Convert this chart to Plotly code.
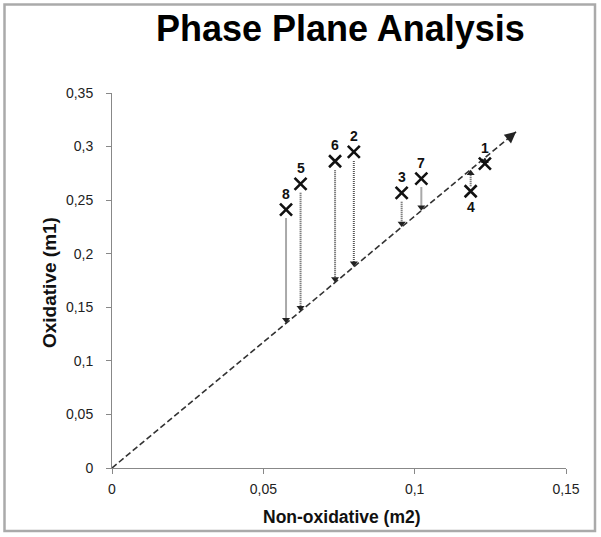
import plotly.graph_objects as go

# ---- data ----
labels = ["1", "2", "3", "4", "5", "6", "7", "8"]
non_oxidative = [0.1232, 0.0799, 0.0957, 0.1185, 0.0623, 0.0737, 0.1022, 0.0575]
oxidative = [0.2841, 0.2950, 0.2568, 0.2583, 0.2652, 0.2863, 0.2701, 0.2412]
label_below = [False, False, False, True, False, False, False, False]

line_slope = 2.35        # oxidative / non-oxidative reference line
line_end_x = 0.1335

x_tickvals = [0, 0.05, 0.1, 0.15]
x_ticktext = ["0", "0,05", "0,1", "0,15"]
y_tickvals = [0, 0.05, 0.1, 0.15, 0.2, 0.25, 0.3, 0.35]
y_ticktext = ["0", "0,05", "0,1", "0,15", "0,2", "0,25", "0,3", "0,35"]

FONT = "Liberation Sans, Arial, Helvetica, sans-serif"

# ---- geometry of plot area (pixels) ----
W, H = 601, 537
L, R, T, B = 112, 35, 93, 69
PW, PH = W - L - R, H - T - B
XR = [0, 0.15]
YR = [0, 0.35]
px_per_y = PH / (YR[1] - YR[0])


def ypix(d):
    return d / px_per_y


fig = go.Figure()

# dashed reference line
fig.add_trace(go.Scatter(
    x=[0, line_end_x], y=[0, line_slope * line_end_x],
    mode="lines", line=dict(color="#333333", width=1.6, dash="6px,3px"),
    hoverinfo="skip", showlegend=False))

# arrowhead at end of reference line
fig.add_annotation(
    x=line_end_x, y=line_slope * line_end_x,
    ax=line_end_x - 0.002, ay=line_slope * (line_end_x - 0.002),
    xref="x", yref="y", axref="x", ayref="y",
    text="", showarrow=True, arrowhead=2, arrowsize=1.5, arrowwidth=1.5,
    arrowcolor="#222222")

# dotted vertical arrows from each point to the line
for xi, yi, below in zip(non_oxidative, oxidative, label_below):
    y_line = line_slope * xi
    if yi > y_line:
        y_start = yi - ypix(9)
        y_tip = y_line + ypix(3.5)
        sym = "triangle-down"
    else:
        y_start = yi + ypix(5)
        y_tip = y_line - ypix(3.5)
        sym = "triangle-up"
    fig.add_trace(go.Scatter(
        x=[xi, xi], y=[y_start, y_tip], mode="lines",
        line=dict(color="#555555", width=2, dash="1px,1px"),
        hoverinfo="skip", showlegend=False))
    fig.add_trace(go.Scatter(
        x=[xi], y=[y_tip], mode="markers",
        marker=dict(symbol=sym, size=7, color="#222222"),
        hoverinfo="skip", showlegend=False))

# X markers
fig.add_trace(go.Scatter(
    x=non_oxidative, y=oxidative, mode="markers",
    marker=dict(symbol="x-thin", size=12, line=dict(color="#111111", width=2.6)),
    showlegend=False))

# point labels
for xi, yi, lab, below in zip(non_oxidative, oxidative, labels, label_below):
    fig.add_annotation(
        x=xi, y=yi, text=f"<b>{lab}</b>", showarrow=False,
        yshift=-16 if below else 16,
        font=dict(family=FONT, size=14, color="#111111"))

# title and axis titles
fig.add_annotation(
    x=(340 - L) / PW, y=(H - B - 29) / PH, xref="paper", yref="paper",
    text="<b>Phase Plane Analysis</b>", showarrow=False,
    xanchor="center", yanchor="middle",
    font=dict(family=FONT, size=36, color="#000000"))
fig.add_annotation(
    x=(342 - L) / PW, y=(H - B - 517) / PH, xref="paper", yref="paper",
    text="<b>Non-oxidative (m2)</b>", showarrow=False,
    xanchor="center", yanchor="middle",
    font=dict(family=FONT, size=17.5, color="#111111"))
fig.add_annotation(
    x=(49 - L) / PW, y=(H - B - 283) / PH, xref="paper", yref="paper",
    text="<b>Oxidative (m1)</b>", showarrow=False, textangle=-90,
    xanchor="center", yanchor="middle",
    font=dict(family=FONT, size=19, color="#111111"))

# frame around the figure
fig.add_shape(
    type="rect", xref="paper", yref="paper",
    x0=(4.5 - L) / PW, x1=(595 - L) / PW,
    y0=(H - B - 531) / PH, y1=(H - B - 4.5) / PH,
    line=dict(color="#aaaaaa", width=2.5), layer="below")

axis_common = dict(
    showgrid=False, zeroline=False, showline=True, linecolor="#888888",
    linewidth=1, ticks="outside", ticklen=5, tickcolor="#888888",
    tickfont=dict(family=FONT, size=14, color="#222222"))

fig.update_xaxes(range=XR, tickvals=x_tickvals, ticktext=x_ticktext,
                 ticklabelstandoff=3, **axis_common)
fig.update_yaxes(range=YR, tickvals=y_tickvals, ticktext=y_ticktext,
                 ticklabelstandoff=10, **axis_common)

fig.update_layout(
    width=W, height=H, margin=dict(l=L, r=R, t=T, b=B),
    plot_bgcolor="white", paper_bgcolor="white",
    font=dict(family=FONT), showlegend=False)

fig.write_html(
    "out.html",
    config={"displayModeBar": False},
    post_script="document.body.style.margin='0px';document.body.style.overflow='hidden';")
